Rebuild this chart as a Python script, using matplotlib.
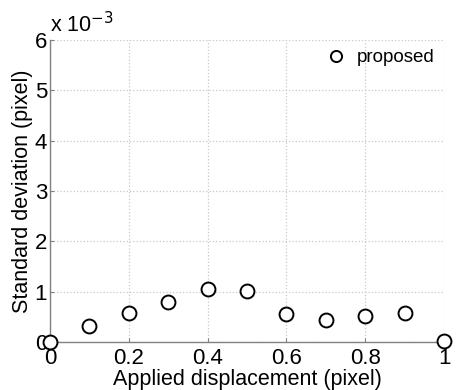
import matplotlib
matplotlib.use("Agg")
import matplotlib.pyplot as plt

plt.rcParams['font.family'] = ['Liberation Sans', 'DejaVu Sans']

displacement = [0.0, 0.1, 0.2, 0.3, 0.4, 0.5, 0.6, 0.7, 0.8, 0.9, 1.0]
std_e3 = [0.0, 0.32, 0.57, 0.79, 1.05, 1.01, 0.56, 0.44, 0.52, 0.57, 0.02]
xticks = [0, 0.2, 0.4, 0.6, 0.8, 1]
xticklabels = ['0', '0.2', '0.4', '0.6', '0.8', '1']
yticks = [0, 1, 2, 3, 4, 5, 6]
yticklabels = ['0', '1', '2', '3', '4', '5', '6']

fig = plt.figure(figsize=(4.59, 3.9), dpi=100)
ax = fig.add_axes([50/459, 48/390, 394/459, 302/390])

ax.plot(displacement, std_e3, linestyle='none', marker='o', markersize=10,
        markerfacecolor='white', markeredgecolor='black', markeredgewidth=1.4,
        label='proposed', clip_on=False, zorder=5)

ax.set_xlim(0, 1)
ax.set_ylim(0, 6)
ax.set_xticks(xticks)
ax.set_xticklabels(xticklabels)
ax.set_yticks(yticks)
ax.set_yticklabels(yticklabels)
ax.grid(True, linestyle=':', color='#c8c8c8', linewidth=0.9)
ax.set_axisbelow(True)
for s in ['top', 'right']:
    ax.spines[s].set_visible(False)
for s in ['left', 'bottom']:
    ax.spines[s].set_color('#808080')
    ax.spines[s].set_linewidth(1.0)
ax.tick_params(direction='in', length=3, color='#808080', labelsize=16)
ax.tick_params(axis='x', pad=4)
ax.tick_params(axis='y', pad=2)
ax.set_xlabel('Applied displacement (pixel)', fontsize=15.5, labelpad=0)
ax.set_ylabel('Standard deviation (pixel)', fontsize=15.5, labelpad=1)
ax.text(0.0, 1.01, r'x 10$^{-3}$', transform=ax.transAxes, fontsize=15.5,
        ha='left', va='bottom')
ax.legend(loc='upper right', bbox_to_anchor=(1.0, 1.0), frameon=False,
          fontsize=13.5, handletextpad=0.6, borderaxespad=0.2, borderpad=0.3,
          handlelength=1.0, markerscale=0.8)

fig.savefig('out.png', dpi=100)
